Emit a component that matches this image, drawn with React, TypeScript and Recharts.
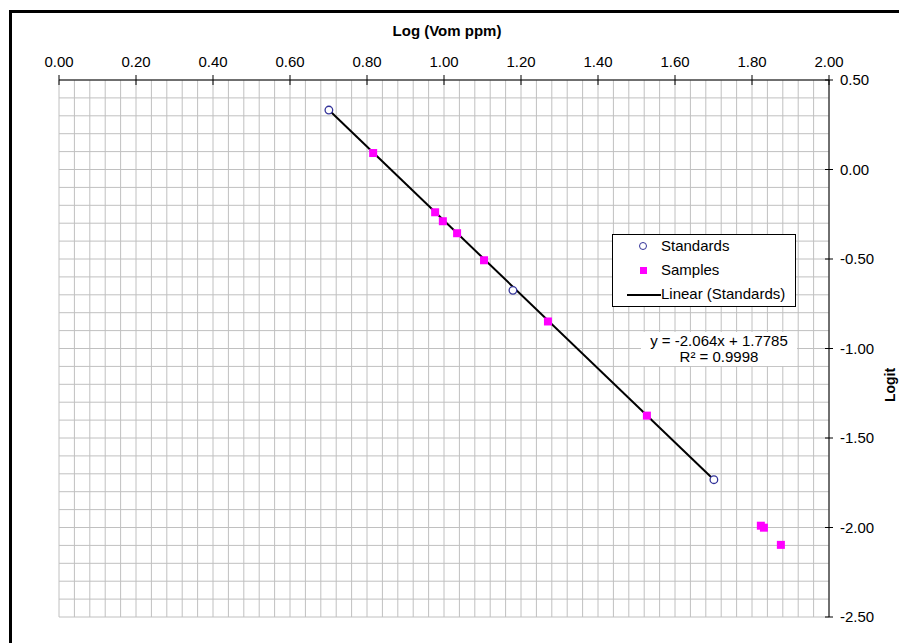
import React from "react";
import { ScatterChart, Scatter, XAxis, YAxis, CartesianGrid } from "recharts";

// values
const standardsX = [0.701, 1.179, 1.701];
const standardsY = [0.332, -0.675, -1.733];
const samplesX = [0.816, 0.977, 0.997, 1.034, 1.104, 1.27, 1.527, 1.823, 1.831, 1.875];
const samplesY = [0.092, -0.239, -0.289, -0.356, -0.507, -0.849, -1.375, -1.99, -2.001, -2.097];
const trendX = [0.701, 1.701];
const trendY = [0.332, -1.733];

const xTicks = [0, 0.2, 0.4, 0.6, 0.8, 1.0, 1.2, 1.4, 1.6, 1.8, 2.0];
const yTicks = [-2.5, -2.0, -1.5, -1.0, -0.5, 0, 0.5];
const X_DOMAIN = [0, 2];
const Y_DOMAIN = [-2.5, 0.5];
// minor grid: every 0.04 on x, every 0.1 on y
const xGrid = Array.from({ length: 51 }, (_, i) => i * 0.04);
const yGrid = Array.from({ length: 31 }, (_, i) => -2.5 + i * 0.1);

const standards = standardsX.map((x, i) => ({ x, y: standardsY[i] }));
const samples = samplesX.map((x, i) => ({ x, y: samplesY[i] }));
const trend = trendX.map((x, i) => ({ x, y: trendY[i] }));

const FONT = '"Liberation Sans", Arial, sans-serif';
const FS = 15;
const fmt = (v: number) => v.toFixed(2);

const Circle = (p: any) => (
  <circle cx={p.cx} cy={p.cy} r={3.8} fill="#fff" stroke="#333399" strokeWidth={1.3} />
);
const Square = (p: any) => (
  <rect x={p.cx - 4} y={p.cy - 4} width={8} height={8} fill="#ff00ff" />
);

// tick marks cross the axis line, like Excel's "cross" option
// text sits at y = axis - 13 (tickSize 5 + tickMargin 8)
const TopTick = ({ x, y, payload }: any) => (
  <g>
    <line x1={x} x2={x} y1={y + 8} y2={y + 18} stroke="#000" />
    <text x={x} y={y} textAnchor="middle" fontSize={FS} fontFamily={FONT} fill="#000">
      {fmt(payload.value)}
    </text>
  </g>
);
// text sits at x = axis + 11 (tickSize 5 + tickMargin 6)
const RightTick = ({ x, y, payload }: any) => (
  <g>
    <line x1={x - 15} x2={x - 7} y1={y} y2={y} stroke="#000" />
    <text x={x} y={y} dy={5} textAnchor="start" fontSize={FS} fontFamily={FONT} fill="#000">
      {fmt(payload.value)}
    </text>
  </g>
);

const vGen = ({ offset }: any) =>
  xGrid.map((v) => offset.left + ((v - X_DOMAIN[0]) / (X_DOMAIN[1] - X_DOMAIN[0])) * offset.width);
const hGen = ({ offset }: any) =>
  yGrid.map((v) => offset.top + ((Y_DOMAIN[1] - v) / (Y_DOMAIN[1] - Y_DOMAIN[0])) * offset.height);

export default function App() {
  return (
    <div
      style={{
        position: "fixed",
        left: 0,
        top: 0,
        width: 899,
        height: 643,
        overflow: "hidden",
        background: "#fff",
        fontFamily: FONT,
      }}
    >
      <div
        style={{
          position: "absolute",
          left: 9,
          top: 10,
          width: 920,
          height: 660,
          borderLeft: "3px solid #000",
          borderTop: "3px solid #000",
        }}
      />
      <div style={{ position: "absolute", left: 0, top: 0 }}>
        <ScatterChart
          width={899}
          height={643}
          margin={{ top: 50, right: 10, bottom: 26, left: 59 }}
        >
          <CartesianGrid
            stroke="#c0c0c0"
            strokeWidth={1}
            verticalCoordinatesGenerator={vGen}
            horizontalCoordinatesGenerator={hGen}
          />
          <XAxis
            type="number"
            dataKey="x"
            domain={X_DOMAIN}
            ticks={xTicks}
            orientation="top"
            height={30}
            tickSize={5}
            tickMargin={8}
            axisLine={{ stroke: "#000" }}
            tickLine={false}
            tick={<TopTick />}
            allowDataOverflow
          />
          <YAxis
            type="number"
            dataKey="y"
            domain={Y_DOMAIN}
            ticks={yTicks}
            orientation="right"
            width={60}
            tickSize={5}
            tickMargin={6}
            axisLine={{ stroke: "#000" }}
            tickLine={false}
            tick={<RightTick />}
            allowDataOverflow
          />
          <Scatter
            name="Linear (Standards)"
            data={trend}
            line={{ stroke: "#000", strokeWidth: 2 }}
            shape={() => <g />}
            isAnimationActive={false}
          />
          <Scatter name="Standards" data={standards} shape={Circle} isAnimationActive={false} />
          <Scatter name="Samples" data={samples} shape={Square} isAnimationActive={false} />
        </ScatterChart>
      </div>

      <div
        style={{
          position: "absolute",
          left: 0,
          width: 894,
          top: 22,
          textAlign: "center",
          fontSize: FS,
          fontWeight: "bold",
          lineHeight: "18px",
        }}
      >
        Log (Vom ppm)
      </div>

      <div
        style={{
          position: "absolute",
          left: 890,
          top: 385,
          transform: "translate(-50%, -50%) rotate(-90deg)",
          fontSize: 14,
          fontWeight: "bold",
          whiteSpace: "nowrap",
        }}
      >
        Logit
      </div>

      {/* legend */}
      <div
        style={{
          position: "absolute",
          left: 612,
          top: 234,
          width: 182,
          height: 71,
          border: "1px solid #000",
          background: "#fff",
          fontSize: FS,
          lineHeight: "18px",
        }}
      >
        <div style={{ position: "absolute", left: 26, top: 7, width: 8, height: 8, borderRadius: "50%", border: "1.3px solid #333399", boxSizing: "border-box" }} />
        <div style={{ position: "absolute", left: 48, top: 2 }}>Standards</div>
        <div style={{ position: "absolute", left: 27, top: 32, width: 7, height: 7, background: "#ff00ff" }} />
        <div style={{ position: "absolute", left: 48, top: 26 }}>Samples</div>
        <div style={{ position: "absolute", left: 14, top: 59, width: 34, height: 2, background: "#000" }} />
        <div style={{ position: "absolute", left: 48, top: 50, whiteSpace: "nowrap" }}>Linear (Standards)</div>
      </div>

      {/* trendline equation */}
      <div
        style={{
          position: "absolute",
          left: 641,
          top: 332,
          width: 156,
          height: 34,
          background: "#fff",
          textAlign: "center",
          fontSize: FS,
          lineHeight: "16px",
          paddingTop: 1,
          boxSizing: "border-box",
          whiteSpace: "nowrap",
        }}
      >
        <div>y = -2.064x + 1.7785</div>
        <div>R² = 0.9998</div>
      </div>
    </div>
  );
}
